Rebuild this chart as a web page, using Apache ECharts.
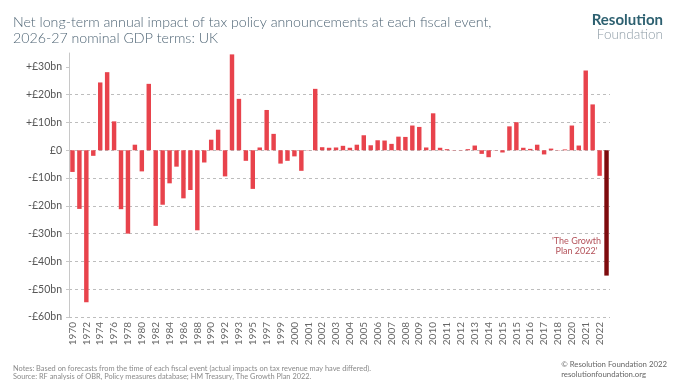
<!DOCTYPE html>
<html>
<head>
<meta charset="utf-8">
<script src="https://cdn.jsdelivr.net/npm/echarts@6/dist/echarts.min.js"></script>
<style>html,body{margin:0;padding:0;background:#fff}#c{width:680px;height:383px}</style>
</head>
<body>
<div id="c"></div>
<script>
var categories = ['1970','1971','1972','1973','1974','1975','1976','1977','1978','1979',
  '1980','1981','1982','1983','1984','1985','1986','1987','1988','1989',
  '1990','1991','1992','1993','1993','1994','1995','1996','1997','1998',
  '1999','1999','2000','2000','2001','2002','2002','2002','2003','2003',
  '2004','2004','2005','2005','2006','2006','2007','2007','2008','2008',
  '2009','2009','2010','2010','2011','2011','2012','2012','2013','2013',
  '2014','2014','2015','2015','2015','2015','2016','2016','2017','2017',
  '2018','2019','2020','2020','2021','2021','2022','2022'];
var impact = [-7.8,-21.1,-54.7,-2.0,24.4,28.1,10.4,-21.2,-30.0,2.0,
  -7.6,23.9,-27.2,-19.6,-11.9,-5.9,-17.3,-14.3,-28.8,-4.4,
  3.8,7.4,-9.4,34.5,18.5,-3.8,-13.9,1.0,14.5,5.9,
  -4.8,-3.8,-2.2,-7.4,0.1,22.1,1.1,0.9,1.0,1.6,
  0.9,2.0,5.4,1.8,3.6,3.5,2.3,4.9,4.8,8.9,
  8.4,1.0,13.3,0.9,0.4,-0.1,-0.1,0.4,1.7,-1.3,
  -2.5,-0.1,-0.8,8.6,10.1,0.9,0.5,2.0,-1.5,0.6,
  -0.1,0.3,8.9,1.7,28.7,16.5,-9.2,-45.1];
var highlightIndex = 77;
var yTicks = [-60,-50,-40,-30,-20,-10,0,10,20,30];
var annotation = "'The Growth\nPlan 2022'";

var data = impact.map(function(v,i){
  return i === highlightIndex ? {value:v, itemStyle:{color:'#7e0b0e'}} : v;
});
function fmt(v){
  if (v === 0) return '£0';
  return (v > 0 ? '+' : '-') + '£' + Math.abs(v) + 'bn';
}
var chart = echarts.init(document.getElementById('c'), null, {renderer:'canvas'});
chart.setOption({
  animation:false,
  backgroundColor:'#fff',
  title:[
    {text:'Net long-term annual impact of tax policy announcements at each fiscal event,\n2026-27 nominal GDP terms: UK',
     left:8, top:9, textStyle:{fontFamily:'Lato', fontWeight:300, fontSize:14.2, lineHeight:16.5, color:'#4f6575'}},
    {text:'Resolution', right:12, top:8, textStyle:{fontFamily:'Lato', fontWeight:'bold', fontSize:15, color:'#2d6070'}},
    {text:'Foundation', right:12, top:23, textStyle:{fontFamily:'Lato', fontWeight:300, fontSize:13.5, color:'#8e9ca6'}},
    {text:'Notes: Based on forecasts from the time of each fiscal event (actual impacts on tax revenue may have differed).\nSource: RF analysis of OBR, Policy measures database; HM Treasury, The Growth Plan 2022.',
     left:8, top:359, textStyle:{fontFamily:'Lato', fontWeight:'normal', fontSize:7.4, lineHeight:8.5, color:'#8a8a8a'}}
  ],
  graphic:[
    {type:'text', right:13, top:360, style:{text:'© Resolution Foundation 2022\nresolutionfoundation.org', align:'right',
      font:'normal 7.8px Lato', lineHeight:9.5, fill:'#666'}}
  ],
  grid:{left:69, right:70, top:53, bottom:66, containLabel:false},
  xAxis:{
    type:'category', data:categories, boundaryGap:true,
    axisLine:{show:false}, axisTick:{show:false},
    axisLabel:{interval:1, rotate:90, fontFamily:'Lato', fontSize:10, color:'#666', margin:5}
  },
  yAxis:{
    type:'value', min:-60, max:35, interval:10,
    axisLine:{show:true, lineStyle:{color:'#c8c8c8', width:1}},
    axisTick:{show:true, length:3, customValues:yTicks, lineStyle:{color:'#c8c8c8'}},
    axisLabel:{customValues:yTicks, formatter:fmt, fontFamily:'Lato', fontSize:10.5, color:'#555', margin:7},
    splitLine:{show:true, showMaxLine:false, lineStyle:{color:'#bdbdbd', type:[3,3], width:1}}
  },
  series:[{
    type:'bar', data:data, barCategoryGap:'36%',
    itemStyle:{color:'#e8434c'},
    markPoint:{
      symbol:'rect', symbolSize:1, itemStyle:{color:'rgba(0,0,0,0)'},
      label:{show:true, formatter:annotation, fontFamily:'Lato', fontSize:9, lineHeight:10.5, color:'#b4525a', align:'center', offset:[-30,0]},
      data:[{coord:[highlightIndex, -34.5]}]
    }
  }]
});
</script>
</body>
</html>
